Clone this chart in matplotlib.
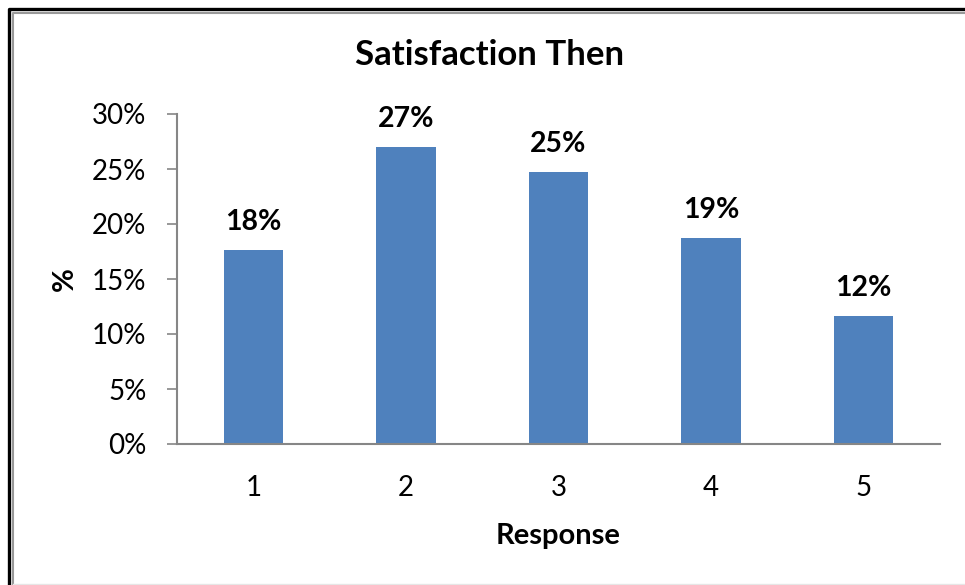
import matplotlib.pyplot as plt
from matplotlib.lines import Line2D

responses = ['1', '2', '3', '4', '5']
percents = [17.6, 27.0, 24.7, 18.7, 11.6]
labels = ['18%', '27%', '25%', '19%', '12%']
yticks = [0, 5, 10, 15, 20, 25, 30]

plt.rcParams['font.family'] = ['Lato', 'DejaVu Sans']

W, H = 965, 585
fig = plt.figure(figsize=(W / 100, H / 100), dpi=100)
ax = fig.add_axes([177 / W, 1 - 444 / H, (940 - 177) / W, (444 - 114) / H])

x = range(len(responses))
ax.bar(x, percents, width=0.39, color='#4F81BD')
for i, (v, lab) in enumerate(zip(percents, labels)):
    ax.annotate(lab, (i, v), xytext=(0, 11), textcoords='offset points',
                ha='center', va='bottom', fontsize=20.5, fontweight='bold')

ax.set_xlim(-0.5, 4.5)
ax.set_ylim(0, 30)
ax.set_yticks(yticks)
ax.set_yticklabels(['{}%'.format(t) for t in yticks], fontsize=20)
ax.set_xticks(list(x))
ax.set_xticklabels(responses, fontsize=20)
ax.tick_params(axis='x', length=0, pad=22)
ax.tick_params(axis='y', length=7, width=1.2, color='#868686', pad=15)

for s in ['top', 'right']:
    ax.spines[s].set_visible(False)
for s in ['left', 'bottom']:
    ax.spines[s].set_color('#868686')
    ax.spines[s].set_linewidth(1.5)

ax.set_xlabel('Response', fontsize=21, fontweight='bold', labelpad=16)
ax.set_ylabel('%', fontsize=21, fontweight='bold', labelpad=10)

fig.text(490 / W, 1 - 55 / H, 'Satisfaction Then', ha='center', va='center',
         fontsize=25, fontweight='bold')

# outer chart frame
def fline(xs, ys, color, lw):
    fig.add_artist(Line2D([v / W for v in xs], [1 - v / H for v in ys],
                          color=color, lw=lw, transform=fig.transFigure))

fline([8.5, 8.5, W], [H, 8.5, 8.5], 'black', 2.4)
fline([12.5, 12.5, W], [H, 12.5, 12.5], '#999999', 1.5)
fline([12.5, W], [584, 584], '#e6e6e6', 1)

fig.savefig('out.png', dpi=100)
